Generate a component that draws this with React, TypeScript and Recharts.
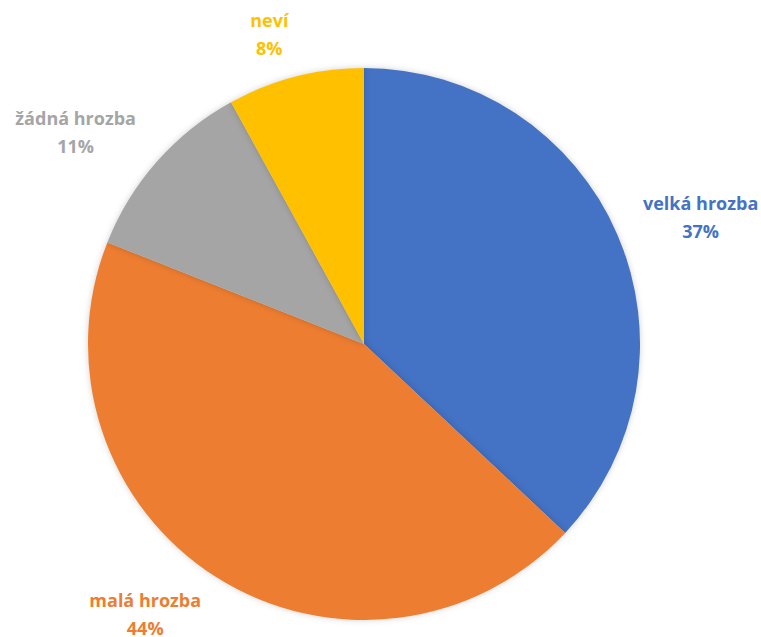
import { Cell, Pie, PieChart } from "recharts";

const categories = ["velká hrozba", "malá hrozba", "žádná hrozba", "neví"];
const shares = [37, 44, 11, 8];
const COLORS = ["#4472C4", "#ED7D31", "#A5A5A5", "#FFC000"];

const data = categories.map((name, i) => ({ name, value: shares[i] }));

const RADIAN = Math.PI / 180;
const FONT = "700 18px 'Open Sans', sans-serif";

let ctx: CanvasRenderingContext2D | null = null;
function textWidth(s: string) {
  if (!ctx) ctx = document.createElement("canvas").getContext("2d");
  if (!ctx) return s.length * 9.5;
  ctx.font = FONT;
  return ctx.measureText(s).width;
}

// excel-ish outside-end label: box pushed away from the slice edge
function renderLabel(props: any) {
  const { cx, cy, midAngle, outerRadius, index, name, value } = props;
  const cos = Math.cos(-midAngle * RADIAN);
  const sin = Math.sin(-midAngle * RADIAN);
  const pct = `${value}%`;
  const hw = Math.max(textWidth(name), textWidth(pct)) / 2;
  const x = cx + (outerRadius + 28) * cos + Math.sign(cos) * hw;
  const y = cy + (outerRadius + 44) * sin;
  return (
    <text
      x={x}
      y={y}
      fill={COLORS[index]}
      textAnchor="middle"
      fontFamily="'Open Sans', sans-serif"
      fontWeight={700}
      fontSize={18}
    >
      <tspan x={x} y={y - 14} dominantBaseline="central">{name}</tspan>
      <tspan x={x} y={y + 14} dominantBaseline="central">{pct}</tspan>
    </text>
  );
}

export default function App() {
  return (
    <div style={{ position: "absolute", left: 0, top: 0, width: 761, height: 637, background: "#fff" }}>
      <style>{`.recharts-pie-sector { filter: drop-shadow(0 0 3px rgba(0,0,0,0.18)); }`}</style>
      <PieChart width={761} height={637} margin={{ top: 0, right: 0, bottom: 0, left: 0 }}>
        <Pie
          data={data}
          dataKey="value"
          nameKey="name"
          cx={364}
          cy={344}
          outerRadius={276}
          startAngle={90}
          endAngle={-270}
          stroke="none"
          label={renderLabel}
          labelLine={false}
          isAnimationActive={false}
        >
          {data.map((entry, i) => (
            <Cell key={entry.name} fill={COLORS[i]} />
          ))}
        </Pie>
      </PieChart>
    </div>
  );
}
